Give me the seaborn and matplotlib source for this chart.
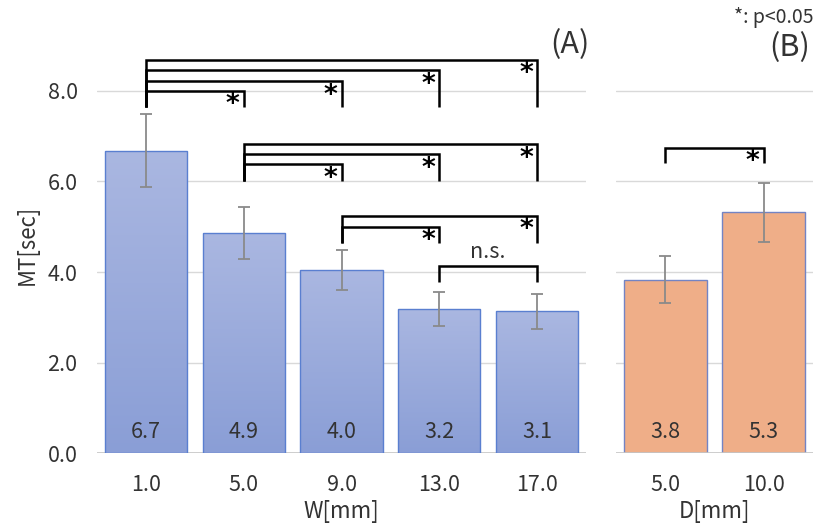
import numpy as np
import pandas as pd
import matplotlib
matplotlib.use('Agg')
import matplotlib.pyplot as plt
import seaborn as sns

# ---- data ----
w_labels = ['1.0', '5.0', '9.0', '13.0', '17.0']
w_means = [6.68, 4.86, 4.04, 3.18, 3.13]
w_sd = [0.80, 0.58, 0.44, 0.37, 0.39]
d_labels = ['5.0', '10.0']
d_means = [3.83, 5.32]
d_sd = [0.52, 0.65]
y_ticks = [0.0, 2.0, 4.0, 6.0, 8.0]

# significance brackets: (left idx, right idx, line y, foot y, label)
w_brackets = [
    (0, 4, 8.69, 7.65, '*'), (0, 3, 8.45, 7.65, '*'), (0, 2, 8.21, 7.65, '*'), (0, 1, 8.00, 7.65, '*'),
    (1, 4, 6.82, 6.01, '*'), (1, 3, 6.60, 6.01, '*'), (1, 2, 6.38, 6.01, '*'),
    (2, 4, 5.24, 4.65, '*'), (2, 3, 5.00, 4.65, '*'),
    (3, 4, 4.14, 3.79, 'n.s.'),
]
d_brackets = [(0, 1, 6.74, 6.40, '*')]

sns.set_theme(style='white')
plt.rcParams['font.family'] = ['Noto Sans CJK JP', 'DejaVu Sans']

fig = plt.figure(figsize=(8.16, 5.27), dpi=100)
bottom = 73.7 / 527
height = 0.791
axA = fig.add_axes([97 / 816, bottom, (586 - 97) / 816, height])
axB = fig.add_axes([616 / 816, bottom, (813 - 616) / 816, height])

text_col = '#333333'
fs = 15.5


def gradient_bars(ax, top_rgb, bot_rgb):
    grad = np.linspace(0, 1, 256).reshape(-1, 1)
    top = np.array(top_rgb) / 255.0
    bot = np.array(bot_rgb) / 255.0
    img = bot[None, None, :] * (1 - grad[..., None]) + top[None, None, :] * grad[..., None]
    for p in list(ax.patches):
        x0, y0, w, h = p.get_x(), p.get_y(), p.get_width(), p.get_height()
        im = ax.imshow(img, extent=[x0, x0 + w, y0, y0 + h], origin='lower',
                       aspect='auto', zorder=p.get_zorder() + 0.1, interpolation='bilinear')
        im.set_clip_path(p)
        p.set_zorder(p.get_zorder() + 0.2)
        p.set_facecolor('none')


def draw_panel(ax, labels, means, sds, color, edge, grad_top, grad_bot, brackets, xlabel):
    df = pd.DataFrame({'cat': labels, 'mean': means})
    sns.barplot(data=df, x='cat', y='mean', order=labels, color=color, saturation=1,
                width=0.84, errorbar=None, edgecolor=edge, linewidth=1.0, ax=ax)
    n = len(labels)
    if grad_top is not None:
        gradient_bars(ax, grad_top, grad_bot)
    ax.errorbar(np.arange(n), means, yerr=sds, fmt='none', ecolor='#8a8a8a',
                elinewidth=1.3, capsize=4, capthick=1.3, zorder=5)
    for i, m in enumerate(means):
        ax.text(i, 0.47, f'{m:.1f}', ha='center', va='center', fontsize=fs, color=text_col, zorder=6)
    for (i, j, yl, yf, lab) in brackets:
        ax.plot([i, i, j, j], [yf, yl, yl, yf], color='black', lw=1.8, zorder=6,
                solid_joinstyle='miter', solid_capstyle='butt')
        if lab == '*':
            ax.annotate('*', xy=(j, yl), xytext=(-8, -1), textcoords='offset points',
                        ha='center', va='top', fontsize=19, fontweight='bold', color='black',
                        family=['DejaVu Sans'])
        else:
            ax.text((i + j) / 2, yl + 0.06, lab, ha='center', va='bottom', fontsize=fs, color=text_col)
    ax.set_xlim(-0.5, n - 0.5)
    ax.set_ylim(0, 9.2)
    ax.set_yticks(y_ticks)
    ax.yaxis.grid(True, color='#d9d9d9', lw=1.0)
    ax.set_axisbelow(True)
    ax.axhline(0, color='#c6c6c6', lw=1.2, zorder=1)
    for s in ax.spines.values():
        s.set_visible(False)
    ax.tick_params(axis='both', length=0, labelsize=fs, colors=text_col)
    ax.tick_params(axis='x', pad=15)
    ax.tick_params(axis='y', pad=14)
    ax.set_xlabel(xlabel, fontsize=16, color=text_col, labelpad=3)


draw_panel(axA, w_labels, w_means, w_sd, '#9eb0de', '#5a7fd0', (170, 183, 225), (138, 158, 214),
           w_brackets, 'W[mm]')
draw_panel(axB, d_labels, d_means, d_sd, '#efae88', '#7384c4', None, None, d_brackets, 'D[mm]')

axA.yaxis.set_major_formatter(matplotlib.ticker.FormatStrFormatter('%.1f'))
axA.set_ylabel('MT[sec]', fontsize=16, color=text_col, labelpad=6)
axB.set_ylabel('')
axB.tick_params(axis='y', labelleft=False)

fig.text(570 / 816, 1 - 45 / 527, '(A)', ha='center', va='center', fontsize=22, color=text_col)
fig.text(790 / 816, 1 - 48 / 527, '(B)', ha='center', va='center', fontsize=22, color=text_col)
fig.text(814 / 816, 1 - 18 / 527, '*: p<0.05', ha='right', va='center', fontsize=14, color=text_col)

fig.savefig('out.png', dpi=100, facecolor='white')
